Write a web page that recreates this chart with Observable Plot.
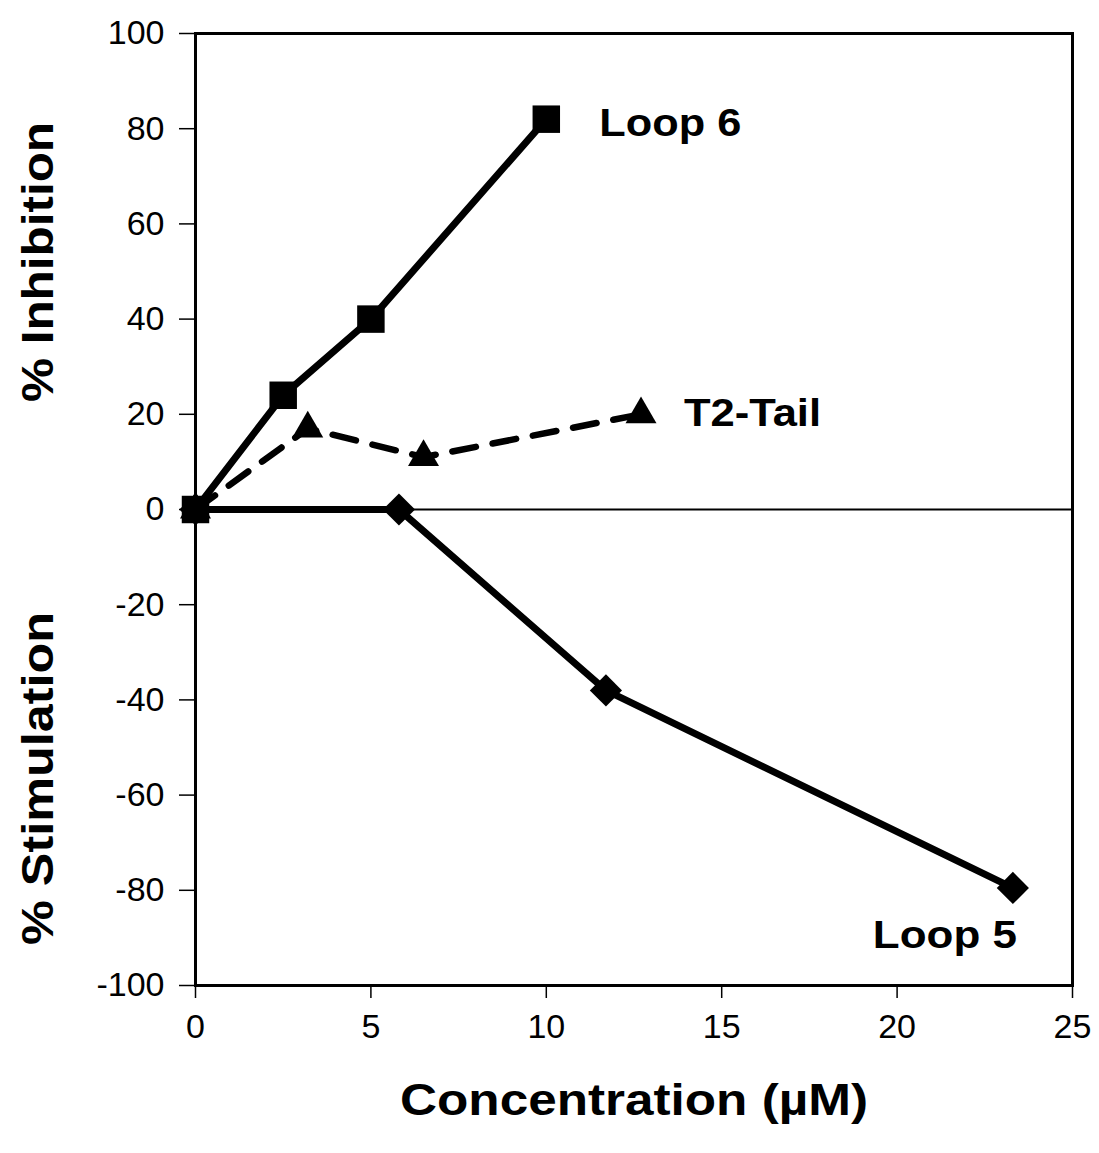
<!DOCTYPE html>
<html><head><meta charset="utf-8">
<script src="https://cdn.jsdelivr.net/npm/d3@7"></script>
<script src="https://cdn.jsdelivr.net/npm/@observablehq/plot@0.6"></script>
<style>
body{margin:0;background:#fff}
#chart svg{font-family:"Liberation Sans",Arial,sans-serif;background:#fff}
</style>
</head><body><div id="chart"></div>
<script>
// ---- data ----
const seriesNames = ["Loop 6", "T2-Tail", "Loop 5"];
const loop6X = [0, 2.5, 5, 10];
const loop6Y = [0, 24, 40, 82];
const t2X = [0, 3.2, 6.5, 12.7];
const t2Y = [0, 17, 11, 20];
const loop5X = [0, 5.8, 11.7, 23.3];
const loop5Y = [0, 0, -38, -79.5];
const xTicks = [0, 5, 10, 15, 20, 25];
const yTicks = [-100, -80, -60, -40, -20, 0, 20, 40, 60, 80, 100];
const yTitles = ["% Inhibition", "% Stimulation"];
const xTitle = "Concentration (\u00B5M)";

const rows = (name, xs, ys) => xs.map((x, i) => ({series: name, x, y: ys[i]}));
const loop6 = rows(seriesNames[0], loop6X, loop6Y);
const t2 = rows(seriesNames[1], t2X, t2Y);
const loop5 = rows(seriesNames[2], loop5X, loop5Y);
const last = a => [a[a.length - 1]];

// label widths (style), to mimic the wide bold face of the original
const textLengths = {"Loop 6": 142, "T2-Tail": 137, "Loop 5": 144,
  "% Inhibition": 280, "% Stimulation": 333, [xTitle]: 468};

const chart = Plot.plot({
  width: 1099, height: 1153,
  marginLeft: 195, marginRight: 27, marginTop: 33, marginBottom: 168,
  x: {domain: [0, 25]},
  y: {domain: [-100, 100]},
  style: {fontSize: "34px", color: "black"},
  marks: [
    Plot.ruleY([0], {stroke: "black", strokeWidth: 2}),
    Plot.axisX({ticks: xTicks, tickSize: 13, tickPadding: 15, fontSize: 34, strokeWidth: 1.5, label: null, tickFormat: d => String(d)}),
    Plot.axisY({ticks: yTicks, tickSize: 16, tickPadding: 15, fontSize: 34, strokeWidth: 1.5, label: null, tickFormat: d => String(d)}),
    Plot.frame({stroke: "black", strokeWidth: 3}),
    Plot.line(loop5, {x: "x", y: "y", stroke: "black", strokeWidth: 7}),
    Plot.line(t2, {x: "x", y: "y", stroke: "black", strokeWidth: 6.5, strokeDasharray: "24,17"}),
    Plot.line(loop6, {x: "x", y: "y", stroke: "black", strokeWidth: 7}),
    Plot.dot(loop5, {x: "x", y: "y", symbol: "diamond2", r: 14.5, fill: "black", stroke: "none"}),
    Plot.dot(t2, {x: "x", y: "y", symbol: "triangle", r: 11.5, fill: "black", stroke: "none"}),
    Plot.dot(loop6, {x: "x", y: "y", symbol: "square", r: 15.5, fill: "black", stroke: "none"}),
    Plot.text(last(loop6), {x: "x", y: "y", text: "series", textAnchor: "start", dx: 53, dy: 5, fontSize: 38, fontWeight: "bold", fill: "black"}),
    Plot.text(last(t2), {x: "x", y: "y", text: "series", textAnchor: "start", dx: 43, dy: 0, fontSize: 38, fontWeight: "bold", fill: "black"}),
    Plot.text(last(loop5), {x: "x", y: "y", text: "series", textAnchor: "end", dx: 4, dy: 48, fontSize: 38, fontWeight: "bold", fill: "black"}),
    Plot.text([yTitles[0]], {y: 52, text: d => d, frameAnchor: "left", textAnchor: "middle", lineAnchor: "middle", rotate: -90, dx: -157, fontSize: 44, fontWeight: "bold", fill: "black"}),
    Plot.text([yTitles[1]], {y: -56.5, text: d => d, frameAnchor: "left", textAnchor: "middle", lineAnchor: "middle", rotate: -90, dx: -157, fontSize: 44, fontWeight: "bold", fill: "black"}),
    Plot.text([xTitle], {text: d => d, frameAnchor: "bottom", textAnchor: "middle", lineAnchor: "middle", dy: 115, fontSize: 44, fontWeight: "bold", fill: "black"})
  ]
});

chart.querySelectorAll("text").forEach(t => {
  const L = textLengths[t.textContent];
  if (L) { t.setAttribute("textLength", L); t.setAttribute("lengthAdjust", "spacingAndGlyphs"); }
});
document.getElementById("chart").appendChild(chart);
</script>
</body></html>
